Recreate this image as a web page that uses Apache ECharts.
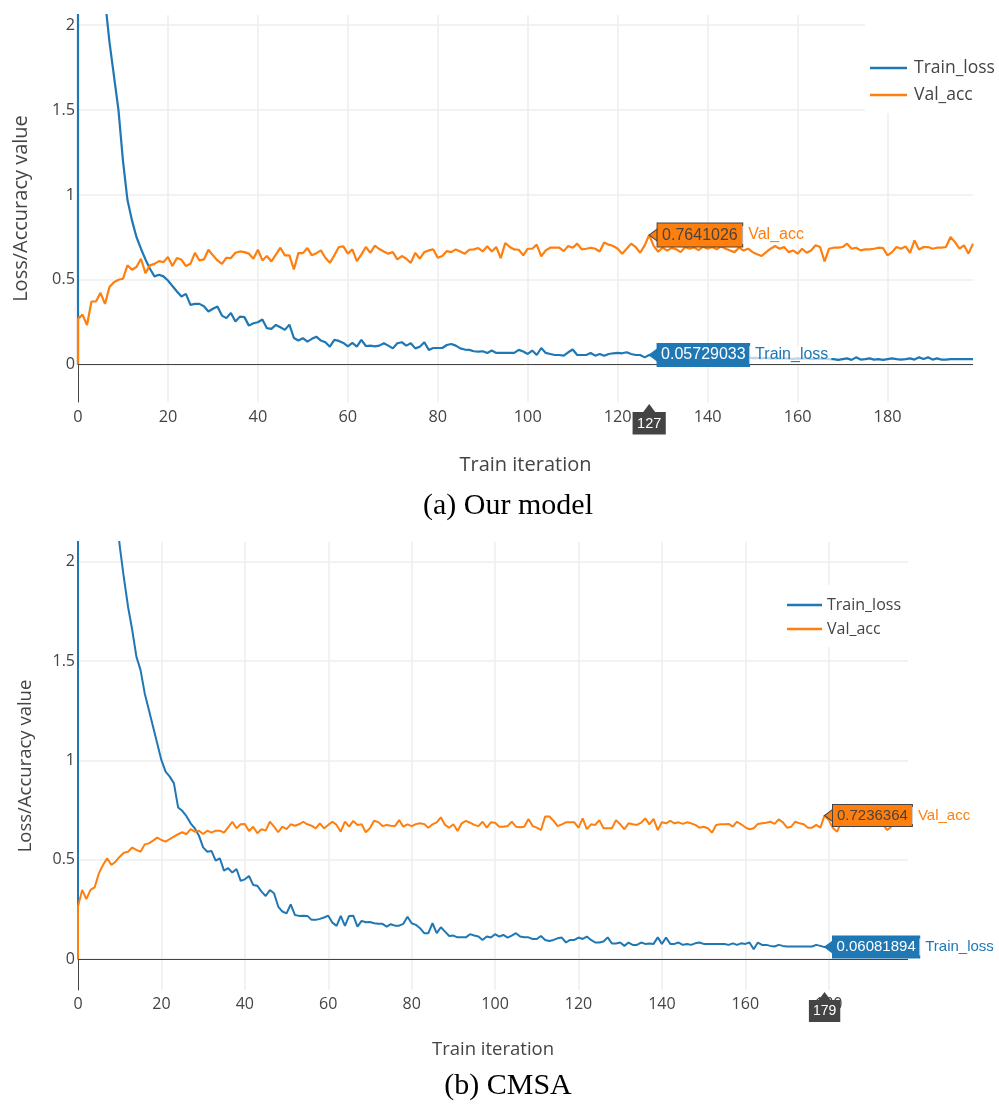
<!DOCTYPE html>
<html>
<head>
<meta charset="utf-8">
<script src="https://cdn.jsdelivr.net/npm/echarts@6/dist/echarts.min.js"></script>
<style>html,body{margin:0;padding:0;background:#fff}#c{width:999px;height:1104px}</style>
</head>
<body>
<div id="c"></div>
<script>
// ---------------- data ----------------
const seriesNames = ['Train_loss', 'Val_acc'];
const captions = ['(a) Our model', '(b) CMSA'];
const xTitle = 'Train iteration';
const yTitle = 'Loss/Accuracy value';

// (a) Our model
const topLoss = [
  12.0, 7.5, 5.3, 4.0, 3.2, 2.6, 2.15, 1.9, 1.7, 1.5,
  1.2, 0.97, 0.85, 0.752, 0.683, 0.62, 0.565, 0.52, 0.53, 0.52,
  0.496, 0.463, 0.431, 0.402, 0.417, 0.352, 0.358, 0.358, 0.344, 0.313,
  0.329, 0.343, 0.289, 0.274, 0.305, 0.254, 0.283, 0.28, 0.23, 0.244,
  0.25, 0.266, 0.215, 0.211, 0.234, 0.22, 0.205, 0.236, 0.157, 0.142,
  0.156, 0.136, 0.152, 0.165, 0.142, 0.132, 0.106, 0.146, 0.14, 0.128,
  0.108, 0.128, 0.106, 0.146, 0.11, 0.112, 0.108, 0.112, 0.126, 0.112,
  0.096, 0.126, 0.132, 0.112, 0.126, 0.096, 0.106, 0.132, 0.087, 0.098,
  0.098, 0.098, 0.116, 0.122, 0.112, 0.096, 0.089, 0.087, 0.079, 0.077,
  0.079, 0.069, 0.083, 0.069, 0.069, 0.069, 0.069, 0.069, 0.087, 0.077,
  0.063, 0.083, 0.057, 0.098, 0.069, 0.063, 0.057, 0.057, 0.053, 0.073,
  0.089, 0.057, 0.057, 0.057, 0.069, 0.053, 0.063, 0.053, 0.063, 0.067,
  0.069, 0.067, 0.073, 0.063, 0.057, 0.057, 0.043, 0.05729033, 0.055, 0.05,
  0.052, 0.048, 0.05, 0.045, 0.048, 0.046, 0.05, 0.044, 0.046, 0.042,
  0.045, 0.048, 0.043, 0.045, 0.041, 0.044, 0.04, 0.043, 0.039, 0.042,
  0.038, 0.04, 0.037, 0.04, 0.036, 0.039, 0.035, 0.038, 0.036, 0.034,
  0.037, 0.035, 0.038, 0.033, 0.036, 0.034, 0.035, 0.033, 0.033, 0.028,
  0.033, 0.037, 0.028, 0.043, 0.03, 0.033, 0.037, 0.03, 0.033, 0.028,
  0.033, 0.037, 0.033, 0.03, 0.033, 0.037, 0.03, 0.043, 0.033, 0.043,
  0.03, 0.037, 0.03, 0.03, 0.033, 0.033, 0.033, 0.033, 0.033, 0.033
];
const topAcc = [
  0.27, 0.295, 0.234, 0.372, 0.372, 0.423, 0.358, 0.457, 0.486, 0.5,
  0.506, 0.585, 0.559, 0.575, 0.624, 0.539, 0.585, 0.594, 0.61, 0.604,
  0.634, 0.581, 0.628, 0.618, 0.581, 0.594, 0.659, 0.614, 0.62, 0.677,
  0.644, 0.614, 0.594, 0.63, 0.628, 0.659, 0.667, 0.663, 0.654, 0.624,
  0.677, 0.614, 0.64, 0.608, 0.648, 0.689, 0.644, 0.644, 0.561, 0.657,
  0.657, 0.687, 0.644, 0.657, 0.673, 0.63, 0.6, 0.644, 0.693, 0.697,
  0.654, 0.679, 0.61, 0.648, 0.693, 0.659, 0.701, 0.681, 0.667, 0.654,
  0.663, 0.62, 0.64, 0.624, 0.6, 0.659, 0.624, 0.663, 0.673, 0.679,
  0.63, 0.64, 0.669, 0.663, 0.679, 0.667, 0.654, 0.677, 0.679, 0.687,
  0.667, 0.697, 0.667, 0.693, 0.628, 0.717, 0.693, 0.679, 0.677, 0.644,
  0.683, 0.683, 0.707, 0.638, 0.673, 0.689, 0.689, 0.689, 0.669, 0.699,
  0.689, 0.713, 0.679, 0.683, 0.689, 0.683, 0.667, 0.719, 0.707, 0.699,
  0.683, 0.654, 0.683, 0.713, 0.693, 0.659, 0.703, 0.7641026, 0.70, 0.665,
  0.69, 0.672, 0.688, 0.68, 0.663, 0.693, 0.683, 0.69, 0.675, 0.695,
  0.683, 0.693, 0.68, 0.697, 0.683, 0.672, 0.663, 0.69, 0.672, 0.683,
  0.663, 0.65, 0.64, 0.663, 0.683, 0.699, 0.683, 0.693, 0.663, 0.673,
  0.654, 0.683, 0.659, 0.673, 0.703, 0.693, 0.608, 0.683, 0.689, 0.689,
  0.693, 0.713, 0.683, 0.689, 0.673, 0.679, 0.679, 0.683, 0.689, 0.687,
  0.644, 0.663, 0.693, 0.683, 0.697, 0.659, 0.732, 0.679, 0.693, 0.693,
  0.683, 0.689, 0.689, 0.693, 0.752, 0.722, 0.683, 0.703, 0.654, 0.713
];

// (b) CMSA
const botLoss = [
  14.0, 9.0, 6.5, 5.0, 4.0, 3.4, 3.0, 2.7, 2.5, 2.3,
  2.08, 1.92, 1.774, 1.657, 1.523, 1.455, 1.338, 1.254, 1.17, 1.086,
  1.002, 0.944, 0.919, 0.885, 0.764, 0.747, 0.72, 0.684, 0.659, 0.622,
  0.563, 0.541, 0.545, 0.496, 0.508, 0.446, 0.458, 0.436, 0.454, 0.394,
  0.402, 0.419, 0.374, 0.37, 0.34, 0.318, 0.348, 0.332, 0.265, 0.24,
  0.231, 0.276, 0.223, 0.218, 0.219, 0.218, 0.198, 0.198, 0.203, 0.21,
  0.219, 0.184, 0.168, 0.218, 0.168, 0.218, 0.219, 0.164, 0.193, 0.186,
  0.187, 0.181, 0.178, 0.178, 0.164, 0.176, 0.169, 0.169, 0.178, 0.214,
  0.181, 0.173, 0.156, 0.131, 0.131, 0.181, 0.131, 0.161, 0.139, 0.117,
  0.119, 0.11, 0.11, 0.11, 0.126, 0.119, 0.114, 0.097, 0.114, 0.109,
  0.126, 0.114, 0.122, 0.109, 0.119, 0.131, 0.114, 0.11, 0.11, 0.102,
  0.102, 0.117, 0.097, 0.092, 0.097, 0.105, 0.109, 0.084, 0.097, 0.097,
  0.109, 0.102, 0.114, 0.097, 0.084, 0.084, 0.089, 0.11, 0.079, 0.079,
  0.084, 0.067, 0.084, 0.072, 0.072, 0.084, 0.077, 0.079, 0.077, 0.11,
  0.077, 0.109, 0.077, 0.077, 0.084, 0.072, 0.077, 0.072, 0.08, 0.084,
  0.077, 0.077, 0.077, 0.077, 0.077, 0.077, 0.072, 0.08, 0.072, 0.08,
  0.077, 0.084, 0.05, 0.084, 0.072, 0.072, 0.067, 0.064, 0.072, 0.067,
  0.064, 0.064, 0.064, 0.064, 0.064, 0.064, 0.064, 0.072, 0.067, 0.06081894,
  0.062, 0.058, 0.064, 0.06, 0.057, 0.062, 0.059, 0.056, 0.06, 0.058,
  0.055, 0.059, 0.057, 0.054, 0.058, 0.056, 0.053, 0.057, 0.055, 0.054
];
const botAcc = [
  0.265, 0.349, 0.302, 0.349, 0.362, 0.432, 0.474, 0.508, 0.474, 0.491,
  0.516, 0.536, 0.541, 0.562, 0.55, 0.541, 0.578, 0.583, 0.597, 0.612,
  0.6, 0.592, 0.605, 0.617, 0.629, 0.639, 0.629, 0.655, 0.642, 0.647,
  0.63, 0.647, 0.637, 0.647, 0.647, 0.637, 0.664, 0.692, 0.659, 0.679,
  0.681, 0.645, 0.667, 0.634, 0.654, 0.647, 0.692, 0.667, 0.639, 0.667,
  0.655, 0.679, 0.672, 0.679, 0.692, 0.679, 0.672, 0.659, 0.684, 0.659,
  0.676, 0.692, 0.676, 0.642, 0.692, 0.667, 0.696, 0.676, 0.679, 0.639,
  0.66, 0.697, 0.69, 0.67, 0.676, 0.672, 0.67, 0.7, 0.667, 0.679,
  0.67, 0.68, 0.684, 0.68, 0.662, 0.679, 0.689, 0.714, 0.676, 0.662,
  0.679, 0.645, 0.684, 0.696, 0.687, 0.676, 0.67, 0.692, 0.662, 0.689,
  0.687, 0.667, 0.667, 0.67, 0.692, 0.667, 0.664, 0.667, 0.706, 0.67,
  0.662, 0.65, 0.718, 0.718, 0.697, 0.67, 0.679, 0.689, 0.689, 0.689,
  0.662, 0.709, 0.655, 0.679, 0.676, 0.7, 0.659, 0.659, 0.659, 0.7,
  0.679, 0.654, 0.684, 0.679, 0.676, 0.687, 0.709, 0.679, 0.706, 0.65,
  0.689, 0.684, 0.697, 0.684, 0.689, 0.681, 0.689, 0.684, 0.676, 0.662,
  0.667, 0.659, 0.637, 0.676, 0.679, 0.679, 0.681, 0.667, 0.692, 0.679,
  0.664, 0.654, 0.659, 0.681, 0.684, 0.687, 0.692, 0.681, 0.704, 0.689,
  0.662, 0.667, 0.692, 0.684, 0.679, 0.662, 0.662, 0.676, 0.662, 0.7236364,
  0.70, 0.66, 0.642, 0.69, 0.68, 0.69, 0.667, 0.69, 0.70, 0.68,
  0.69, 0.70, 0.69, 0.68, 0.65, 0.667, 0.69, 0.70, 0.69, 0.70
];

const hoverTop = 127;   // hovered iteration in (a)
const hoverBot = 179;   // hovered iteration in (b)
const yRangeTop = [-0.22, 2.06];
const yRangeBot = [-0.155, 2.1];
const xRange = [0, 199];

// ---------------- styling ----------------
const BLUE = '#1f77b4', ORANGE = '#ff7f0e', INK = '#444', GRID = '#eeeeee';
const SANS = 'Open Sans';
const ARIAL = 'Liberation Sans';

function pairs(arr) {           // series start at (0,0), then one point per iteration
  return [[0, 0]].concat(arr.map((v, i) => [i, v]));
}

function xAxisCfg(gi, nameGap, nameSize, labelSize, margin) {
  return {
    gridIndex: gi, type: 'value', min: xRange[0], max: xRange[1], interval: 20,
    name: xTitle, nameLocation: 'middle', nameGap: nameGap,
    nameTextStyle: { color: INK, fontSize: nameSize, fontFamily: SANS },
    axisLine: { show: false, onZero: false },
    axisTick: { show: false },
    axisLabel: { color: INK, fontSize: labelSize, fontFamily: SANS, margin: margin, showMaxLabel: false },
    splitLine: { show: true, showMinLine: false, showMaxLine: false, lineStyle: { color: GRID, width: 1.5 } }
  };
}
function yAxisCfg(gi, range, nameGap, nameSize, labelSize) {
  return {
    gridIndex: gi, type: 'value', min: range[0], max: range[1], splitNumber: 5,
    name: yTitle, nameLocation: 'middle', nameGap: nameGap,
    nameTextStyle: { color: INK, fontSize: nameSize, fontFamily: SANS },
    axisLine: { show: true, onZero: false, lineStyle: { color: INK, width: 1 } },
    axisTick: { show: false },
    axisLabel: { color: INK, fontSize: labelSize, fontFamily: SANS, margin: 3, showMinLabel: false, showMaxLabel: false },
    splitLine: { show: true, showMinLine: false, showMaxLine: false, lineStyle: { color: GRID, width: 1.5 } }
  };
}

function hoverBox(x, y, color, textColor, border, fs, pad, name) {
  return {
    coord: [x, y],
    symbol: 'path://M0,6L8,0L8,12Z',
    symbolSize: [8, 12],
    symbolOffset: [4, 0],
    itemStyle: { color: color, borderColor: border, borderWidth: 1 },
    label: {
      show: true, position: 'right', distance: 0,
      formatter: '{v|' + String(y) + '}{n|' + name + '}',
      rich: {
        v: { backgroundColor: color, borderColor: border, borderWidth: 1, color: textColor,
             fontSize: fs, lineHeight: fs + 2, fontFamily: ARIAL, padding: pad },
        n: { color: color, fontSize: fs, lineHeight: fs + 2, fontFamily: ARIAL,
             padding: [1, 3, 1, 6], backgroundColor: 'rgba(255,255,255,0.7)' }
      }
    }
  };
}
function xHoverLabel(x, yMin, fs, pad) {
  return {
    coord: [x, yMin],
    symbol: 'path://M6,0L12,8L0,8Z',
    symbolSize: [12, 8],
    symbolOffset: [0, 6],
    itemStyle: { color: INK },
    label: {
      show: true, position: 'bottom', distance: 0,
      formatter: String(x), backgroundColor: INK, color: '#fff',
      fontSize: fs, lineHeight: fs + 1, fontFamily: ARIAL, padding: pad
    }
  };
}

function lossSeries(gi, data, hoverIdx, fs, pad, width) {
  return {
    name: seriesNames[0], type: 'line', xAxisIndex: gi, yAxisIndex: gi,
    data: pairs(data), showSymbol: false, symbol: 'none', z: 3,
    lineStyle: { color: BLUE, width: width }, itemStyle: { color: BLUE },
    markLine: {
      silent: true, symbol: ['none', 'none'], label: { show: false },
      lineStyle: { color: INK, width: 1, type: 'solid' },
      emphasis: { disabled: true },
      data: [{ yAxis: 0 }]
    },
    markPoint: {
      silent: true,
      data: [hoverBox(hoverIdx, data[hoverIdx], BLUE, '#fff', BLUE, fs, pad, seriesNames[0])]
    }
  };
}
function accSeries(gi, data, hoverIdx, yMin, fs, pad, xfs, xpad, width) {
  return {
    name: seriesNames[1], type: 'line', xAxisIndex: gi, yAxisIndex: gi,
    data: pairs(data), showSymbol: false, symbol: 'none', z: 4,
    lineStyle: { color: ORANGE, width: width }, itemStyle: { color: ORANGE },
    markPoint: {
      silent: true,
      data: [
        hoverBox(hoverIdx, data[hoverIdx], ORANGE, INK, INK, fs, pad, seriesNames[1]),
        xHoverLabel(hoverIdx, yMin, xfs, xpad)
      ]
    }
  };
}

const option = {
  animation: false,
  backgroundColor: '#fff',
  grid: [
    { left: 78, top: 15, width: 895, height: 387 },
    { left: 78, top: 542, width: 830, height: 448 }
  ],
  xAxis: [xAxisCfg(0, 53, 20, 16.3, 7), xAxisCfg(1, 50, 18.5, 16, 6)],
  yAxis: [yAxisCfg(0, yRangeTop, 47, 20, 16.3), yAxisCfg(1, yRangeBot, 43, 18.5, 16)],
  legend: [
    { data: seriesNames, orient: 'vertical', left: 865, top: 15, padding: [44, 8, 9, 5],
      itemGap: 9, itemWidth: 37, itemHeight: 2.5, icon: 'rect', backgroundColor: '#fff',
      selectedMode: false,
      textStyle: { color: INK, fontSize: 17.5, lineHeight: 18, fontFamily: SANS, padding: [0, 0, 0, 2] } },
    { data: seriesNames, orient: 'vertical', left: 782, top: 585, padding: [12, 8, 10, 5],
      itemGap: 8, itemWidth: 35, itemHeight: 2.5, icon: 'rect', backgroundColor: '#fff',
      selectedMode: false,
      textStyle: { color: INK, fontSize: 16, lineHeight: 16, fontFamily: SANS } }
  ],
  series: [
    lossSeries(0, topLoss, hoverTop, 16, [3, 3.5, 3, 3.5], 2.2),
    accSeries(0, topAcc, hoverTop, yRangeTop[0], 16, [4, 4.5, 3, 4.5], 14.5, [4, 4.5, 3, 4.5], 2.2),
    lossSeries(1, botLoss, hoverBot, 15, [3, 3.5, 3, 3.5], 2),
    accSeries(1, botAcc, hoverBot, yRangeBot[0], 15, [3, 4, 3, 4], 14, [4, 4, 3, 4], 2)
  ],
  graphic: [
    { type: 'text', x: 508, y: 506, silent: true,
      style: { text: captions[0], fontSize: 30, fontFamily: 'Liberation Serif', fill: '#000',
               align: 'center', verticalAlign: 'middle', textAlign: 'center', textVerticalAlign: 'middle' } },
    { type: 'text', x: 508, y: 1086, silent: true,
      style: { text: captions[1], fontSize: 30, fontFamily: 'Liberation Serif', fill: '#000',
               align: 'center', verticalAlign: 'middle', textAlign: 'center', textVerticalAlign: 'middle' } }
  ]
};

const chart = echarts.init(document.getElementById('c'));
chart.setOption(option);
</script>
</body>
</html>
